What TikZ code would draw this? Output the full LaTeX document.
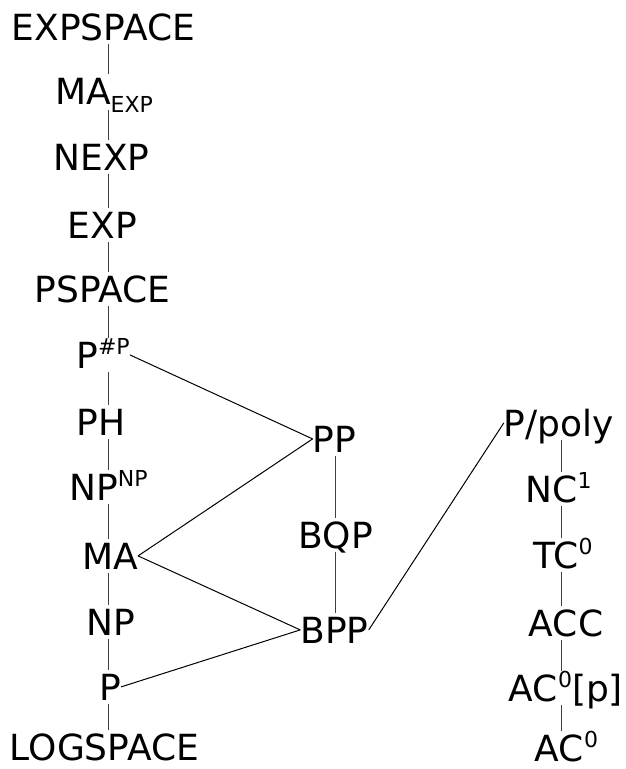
\documentclass[tikz,border=0pt]{standalone}
\usepackage{fontspec}
\setmainfont{DejaVu Sans}
\newcommand{\supx}[1]{\raisebox{14pt}{\fontsize{22}{24}\selectfont #1}}
\newcommand{\subx}[1]{\raisebox{-8pt}{\fontsize{22}{24}\selectfont #1}}
\begin{document}
\begin{tikzpicture}[x=1pt,y=-1pt,
  cls/.style={anchor=base, font=\fontsize{36}{40}\selectfont, inner xsep=0pt, inner ysep=4pt,
              text height=26.2pt, text depth=0pt},
  lastcls/.style={cls, inner ysep=1pt, text height=29.2pt},
  vline/.style={draw=black!75, line width=0.9pt},
  dline/.style={draw=black, line width=1pt}]
\useasboundingbox (0,0) rectangle (625,769);
\coordinate (colL) at (108,0);
\coordinate (colM) at (335,0);
\coordinate (colR) at (561,0);
% left column
\node[cls] (expspace) at (103.5,40) {EXPSPACE};
\node[cls, text depth=2pt] (maexp) at (104,104) {MA\subx{EXP}};
\node[cls] (nexp) at (101.5,170) {NEXP};
\node[cls] (exp) at (102.5,238) {EXP};
\node[cls] (pspace) at (102.5,302) {PSPACE};
\node[cls] (psharp) at (103,368) {P\supx{\#P}};
\node[cls] (ph) at (101,435) {PH};
\node[cls] (npnp) at (108.5,500) {NP\supx{NP}};
\node[cls] (ma) at (110,569) {MA};
\node[cls] (np) at (111,635) {NP};
\node[cls] (p) at (110,700) {P};
\node[lastcls] (logspace) at (104.5,760) {LOGSPACE};
% middle column
\node[cls] (pp) at (334.5,452) {PP};
\node[cls] (bqp) at (335.5,548) {BQP};
\node[cls] (bpp) at (334.5,643) {BPP};
% right column
\node[cls] (ppoly) at (559,436) {P/poly};
\node[cls] (nc1) at (558.5,502) {NC\supx{1}};
\node[cls] (tc0) at (563,568) {TC\supx{0}};
\node[cls] (acc) at (566,636) {ACC};
\node[cls] (ac0p) at (566,701) {AC\supx{0}[p]};
\node[lastcls] (ac0) at (566.5,761) {AC\supx{0}};
% vertical connectors
\foreach \a/\b in {expspace/maexp, maexp/nexp, nexp/exp, exp/pspace, pspace/psharp,
                   psharp/ph, ph/npnp, npnp/ma, ma/np, np/p, p/logspace}
  \draw[vline] (\a.south -| colL) -- (\b.north -| colL);
\foreach \a/\b in {pp/bqp, bqp/bpp}
  \draw[vline] (\a.south -| colM) -- (\b.north -| colM);
\foreach \a/\b in {ppoly/nc1, nc1/tc0, tc0/acc, acc/ac0p, ac0p/ac0}
  \draw[vline] (\a.south -| colR) -- (\b.north -| colR);
% diagonal connectors
\draw[dline] (psharp.east) -- (pp.west);
\draw[dline] (ma.east) -- (pp.west);
\draw[dline] (ma.east) -- (bpp.west);
\draw[dline] (p.east) -- (bpp.west);
\draw[dline] (bpp.east) -- (ppoly.west);
\end{tikzpicture}
\end{document}
